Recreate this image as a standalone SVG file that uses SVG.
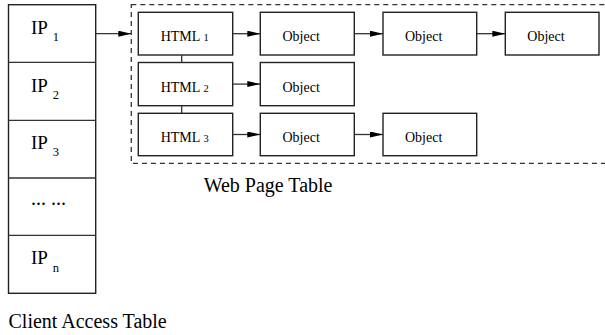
<svg xmlns="http://www.w3.org/2000/svg" width="605" height="335" viewBox="0 0 605 335">
  <style>
    .box { fill: #fff; stroke: #222; stroke-width: 1.4; }
    .line { fill: none; stroke: #333; stroke-width: 1.3; }
    .dash { fill: none; stroke: #333; stroke-width: 1.3; stroke-dasharray: 5 4; }
    .t { font-family: "Liberation Serif", "Times New Roman", serif; fill: #000; }
    .ip { font-size: 19px; }
    .ipsub { font-size: 12.5px; }
    .node { font-size: 14px; }
    .nsub { font-size: 10.5px; }
    .cap { font-size: 20px; }
  </style>
  <defs>
    <marker id="arrow" markerUnits="userSpaceOnUse" markerWidth="14" markerHeight="7" refX="13" refY="3" orient="auto">
      <path d="M0,0 L13,3 L0,6 z" fill="#000"/>
    </marker>
  </defs>

  <rect width="605" height="335" fill="#fff"/>

  <!-- Client access table -->
  <g id="client-table">
    <rect class="box" x="8.5" y="4.7" width="87.2" height="288.6"/>
    <line class="line" x1="8.5" y1="62.3" x2="95.7" y2="62.3"/>
    <line class="line" x1="8.5" y1="120.3" x2="95.7" y2="120.3"/>
    <line class="line" x1="8.5" y1="178" x2="95.7" y2="178"/>
    <line class="line" x1="8.5" y1="235.3" x2="95.7" y2="235.3"/>
  </g>
  <g id="ip1">
    <text class="t ip" x="30.9" y="34">IP</text>
    <text class="t ipsub" x="52.7" y="40.8">1</text>
  </g>
  <g id="ip2">
    <text class="t ip" x="30.9" y="91.7">IP</text>
    <text class="t ipsub" x="52.7" y="98.7">2</text>
  </g>
  <g id="ip3">
    <text class="t ip" x="30.9" y="149">IP</text>
    <text class="t ipsub" x="52.7" y="155.7">3</text>
  </g>
  <g id="ip-more">
    <text class="t cap" x="30.9" y="205">... ...</text>
  </g>
  <g id="ipn">
    <text class="t ip" x="30.9" y="264">IP</text>
    <text class="t ipsub" x="52.7" y="271.7">n</text>
  </g>
  <text class="t cap" x="8.5" y="328">Client Access Table</text>

  <!-- Web page table -->
  <g id="web-table">
    <rect class="dash" x="131.3" y="4.7" width="500" height="158.6"/>
  </g>
  <text class="t cap" x="203.7" y="192">Web Page Table</text>

  <g id="html1">
    <rect class="box" x="138.3" y="12.3" width="94.4" height="42.7"/>
    <text class="t node" x="160.7" y="40.5">HTML</text>
    <text class="t nsub" x="203.5" y="40.5">1</text>
  </g>
  <g id="html2">
    <rect class="box" x="138.3" y="62.5" width="94.4" height="43.2"/>
    <text class="t node" x="160.7" y="92">HTML</text>
    <text class="t nsub" x="203.5" y="92">2</text>
  </g>
  <g id="html3">
    <rect class="box" x="138.3" y="113.3" width="94.4" height="42.4"/>
    <text class="t node" x="160.7" y="141.5">HTML</text>
    <text class="t nsub" x="203.5" y="141.5">3</text>
  </g>

  <g id="obj-1-1">
    <rect class="box" x="260.3" y="12.3" width="94" height="42.7"/>
    <text class="t node" x="282.5" y="40.5">Object</text>
  </g>
  <g id="obj-1-2">
    <rect class="box" x="383" y="12.3" width="93.7" height="42.7"/>
    <text class="t node" x="405" y="40.5">Object</text>
  </g>
  <g id="obj-1-3">
    <rect class="box" x="505.3" y="12.3" width="93.7" height="42.7"/>
    <text class="t node" x="527.3" y="40.5">Object</text>
  </g>
  <g id="obj-2-1">
    <rect class="box" x="260.3" y="62.5" width="94" height="43.2"/>
    <text class="t node" x="282.5" y="92">Object</text>
  </g>
  <g id="obj-3-1">
    <rect class="box" x="260.3" y="113.3" width="94" height="42.4"/>
    <text class="t node" x="282.5" y="141.5">Object</text>
  </g>
  <g id="obj-3-2">
    <rect class="box" x="383" y="113.3" width="93.7" height="42.4"/>
    <text class="t node" x="405" y="141.5">Object</text>
  </g>

  <!-- Connectors -->
  <g id="connectors">
    <line class="line" x1="95.7" y1="33.7" x2="131.3" y2="33.7" marker-end="url(#arrow)"/>
    <line class="line" x1="232.7" y1="33.7" x2="260.3" y2="33.7" marker-end="url(#arrow)"/>
    <line class="line" x1="354.3" y1="33.7" x2="383" y2="33.7" marker-end="url(#arrow)"/>
    <line class="line" x1="476.7" y1="33.7" x2="505.3" y2="33.7" marker-end="url(#arrow)"/>
    <line class="line" x1="232.7" y1="84.1" x2="260.3" y2="84.1" marker-end="url(#arrow)"/>
    <line class="line" x1="232.7" y1="134.5" x2="260.3" y2="134.5" marker-end="url(#arrow)"/>
    <line class="line" x1="354.3" y1="134.5" x2="383" y2="134.5" marker-end="url(#arrow)"/>
    <line class="line" x1="181.7" y1="55" x2="181.7" y2="62.5"/>
    <line class="line" x1="181.7" y1="105.7" x2="181.7" y2="113.3"/>
  </g>
</svg>
